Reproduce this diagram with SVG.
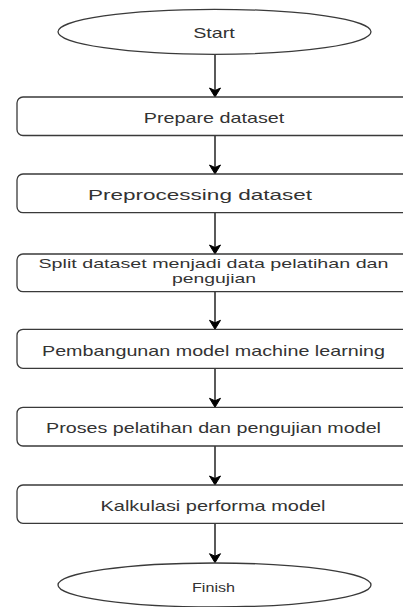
<svg xmlns="http://www.w3.org/2000/svg" width="403" height="607" viewBox="0 0 403 607">
<style>
.box{fill:#fff;stroke:#3a3a3a;stroke-width:1.3}
.t{font-family:"Liberation Sans",Arial,sans-serif;font-size:14.5px;fill:#333;text-anchor:middle}
.s{font-size:13.5px}
.f{font-size:13px}
.c{stroke:#000;stroke-width:1.3;fill:none}
.h{fill:#000;stroke:#000;stroke-width:1}
</style>
<rect width="403" height="607" fill="#fff"/>
<g id="connectors">
<line class="c" x1="215" y1="54.5" x2="215" y2="92"/><path class="h" d="M215,97 L209.5,88 L215,90.5 L220.5,88 Z"/>
<line class="c" x1="215" y1="135.5" x2="215" y2="169"/><path class="h" d="M215,174 L209.5,165 L215,167.5 L220.5,165 Z"/>
<line class="c" x1="215" y1="212.7" x2="215" y2="249"/><path class="h" d="M215,254 L209.5,245 L215,247.5 L220.5,245 Z"/>
<line class="c" x1="215" y1="291.7" x2="215" y2="324.3"/><path class="h" d="M215,329.3 L209.5,320.3 L215,322.8 L220.5,320.3 Z"/>
<line class="c" x1="215" y1="368.3" x2="215" y2="402.3"/><path class="h" d="M215,407.3 L209.5,398.3 L215,400.8 L220.5,398.3 Z"/>
<line class="c" x1="215" y1="446" x2="215" y2="480"/><path class="h" d="M215,485 L209.5,476 L215,478.5 L220.5,476 Z"/>
<line class="c" x1="215" y1="523.3" x2="215" y2="557.7"/><path class="h" d="M215,562.7 L209.5,553.7 L215,556.2 L220.5,553.7 Z"/>
</g>
<g id="start">
<ellipse class="box" cx="214.5" cy="31.8" rx="156.5" ry="22.5"/>
<text class="t" x="214" y="38" textLength="41.7" lengthAdjust="spacingAndGlyphs">Start</text>
</g>
<g id="prepare">
<rect class="box" x="17" y="97" width="394" height="38.5" rx="6"/>
<text class="t" x="214" y="123" textLength="140.5" lengthAdjust="spacingAndGlyphs">Prepare dataset</text>
</g>
<g id="preprocessing">
<rect class="box" x="17" y="174" width="394" height="38.7" rx="6"/>
<text class="t" x="200" y="200" textLength="224" lengthAdjust="spacingAndGlyphs">Preprocessing dataset</text>
</g>
<g id="split">
<rect class="box" x="17" y="254" width="394" height="37.7" rx="6"/>
<text class="t s" x="213.5" y="268.3" textLength="350" lengthAdjust="spacingAndGlyphs">Split dataset menjadi data pelatihan dan</text>
<text class="t s" x="214" y="283" textLength="84" lengthAdjust="spacingAndGlyphs">pengujian</text>
</g>
<g id="pembangunan">
<rect class="box" x="17" y="329.3" width="394" height="39" rx="6"/>
<text class="t" x="213.5" y="355.5" textLength="343" lengthAdjust="spacingAndGlyphs">Pembangunan model machine learning</text>
</g>
<g id="proses">
<rect class="box" x="17" y="407.3" width="394" height="38.7" rx="6"/>
<text class="t" x="213.5" y="433" textLength="335" lengthAdjust="spacingAndGlyphs">Proses pelatihan dan pengujian model</text>
</g>
<g id="kalkulasi">
<rect class="box" x="17" y="485" width="394" height="38.3" rx="6"/>
<text class="t" x="213" y="511" textLength="225" lengthAdjust="spacingAndGlyphs">Kalkulasi performa model</text>
</g>
<g id="finish">
<ellipse class="box" cx="214.5" cy="585" rx="156.5" ry="22"/>
<text class="t f" x="213.5" y="591.5" textLength="43" lengthAdjust="spacingAndGlyphs">Finish</text>
</g>
</svg>
